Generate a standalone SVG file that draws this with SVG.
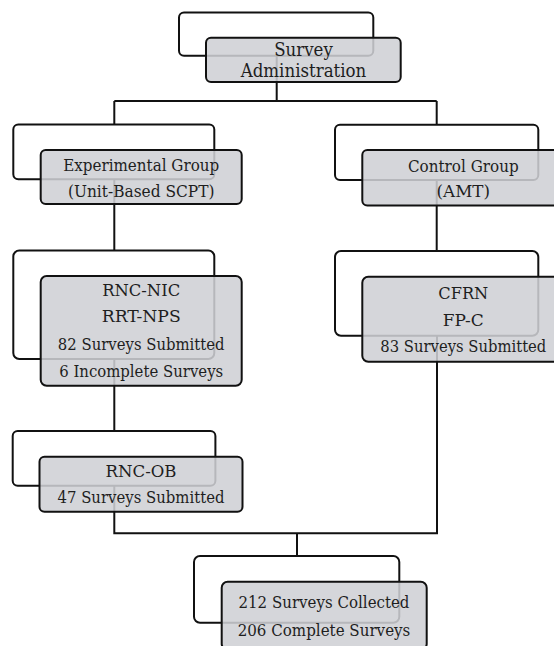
<svg xmlns="http://www.w3.org/2000/svg" width="554" height="646" viewBox="0 0 554 646">
<style>
.back{fill:#ffffff;stroke:#111111;stroke-width:2}
.front{fill:#cfd0d4;fill-opacity:0.87;stroke:#111111;stroke-width:2}
text{font-family:'DejaVu Serif','Liberation Serif',serif;font-size:17.5px;fill:#1e1e1e;text-anchor:middle}
.t2{font-size:19px}
.conn{fill:none;stroke:#111111;stroke-width:2}
</style>
<rect width="554" height="646" fill="#ffffff"/>
<g id="connectors">
<path class="conn" d="M276.7 50 V101 M114.3 101 H436.7 M114.3 101 V125 M436.7 101 V125"/>
<path class="conn" d="M114.3 175 V250.5"/>
<path class="conn" d="M436.7 175 V251"/>
<path class="conn" d="M114.3 355 V431"/>
<path class="conn" d="M114.3 480 V533.3 H437 V330"/>
<path class="conn" d="M297 533.3 V556"/>
</g>
<g id="survey-administration">
<rect class="back" x="179" y="12.5" width="194.3" height="43.2" rx="5"/>
<rect class="front" x="206" y="37.7" width="194.7" height="44.3" rx="5"/>
<text class="t2" x="303.5" y="56" textLength="58.7" lengthAdjust="spacingAndGlyphs">Survey</text>
<text class="t2" x="303.5" y="77.3" textLength="125.7" lengthAdjust="spacingAndGlyphs">Administration</text>
</g>
<g id="experimental-group">
<rect class="back" x="13.3" y="124.5" width="201" height="54.8" rx="5"/>
<rect class="front" x="40.7" y="150" width="201" height="54" rx="5"/>
<text x="141.2" y="170.7" textLength="156" lengthAdjust="spacingAndGlyphs">Experimental Group</text>
<text x="141.2" y="196.5" textLength="146.6" lengthAdjust="spacingAndGlyphs">(Unit-Based SCPT)</text>
</g>
<g id="control-group">
<rect class="back" x="335" y="124.7" width="203.3" height="55.3" rx="5"/>
<rect class="front" x="362.3" y="150" width="201.5" height="55.5" rx="5"/>
<text x="463.3" y="171.5" textLength="110.7" lengthAdjust="spacingAndGlyphs">Control Group</text>
<text x="463.3" y="197" textLength="53.5" lengthAdjust="spacingAndGlyphs">(AMT)</text>
</g>
<g id="rnc-nic">
<rect class="back" x="13.3" y="250.5" width="201" height="108.5" rx="6"/>
<rect class="front" x="40.7" y="276" width="201" height="109.7" rx="6"/>
<text x="141.2" y="295.7" textLength="78" lengthAdjust="spacingAndGlyphs">RNC-NIC</text>
<text x="141.2" y="322.3" textLength="79" lengthAdjust="spacingAndGlyphs">RRT-NPS</text>
<text x="141.2" y="350" textLength="166.7" lengthAdjust="spacingAndGlyphs">82 Surveys Submitted</text>
<text x="141.2" y="376.7" textLength="164" lengthAdjust="spacingAndGlyphs">6 Incomplete Surveys</text>
</g>
<g id="cfrn">
<rect class="back" x="335" y="251" width="203.3" height="84.7" rx="6"/>
<rect class="front" x="362.3" y="276.7" width="201.5" height="85" rx="6"/>
<text x="463.3" y="298.8" textLength="50" lengthAdjust="spacingAndGlyphs">CFRN</text>
<text x="463.3" y="326.3" textLength="41" lengthAdjust="spacingAndGlyphs">FP-C</text>
<text x="463.3" y="351.7" textLength="166" lengthAdjust="spacingAndGlyphs">83 Surveys Submitted</text>
</g>
<g id="rnc-ob">
<rect class="back" x="12.7" y="431" width="202.7" height="54.7" rx="5"/>
<rect class="front" x="39.5" y="456.7" width="203" height="55" rx="5"/>
<text x="141" y="476.7" textLength="71" lengthAdjust="spacingAndGlyphs">RNC-OB</text>
<text x="141" y="503.3" textLength="167" lengthAdjust="spacingAndGlyphs">47 Surveys Submitted</text>
</g>
<g id="surveys-collected">
<rect class="back" x="194" y="556" width="205.3" height="66.7" rx="6"/>
<rect class="front" x="221.7" y="581.7" width="205" height="68" rx="6"/>
<text x="324" y="608.3" textLength="171" lengthAdjust="spacingAndGlyphs">212 Surveys Collected</text>
<text x="324" y="636" textLength="172.7" lengthAdjust="spacingAndGlyphs">206 Complete Surveys</text>
</g>
</svg>
